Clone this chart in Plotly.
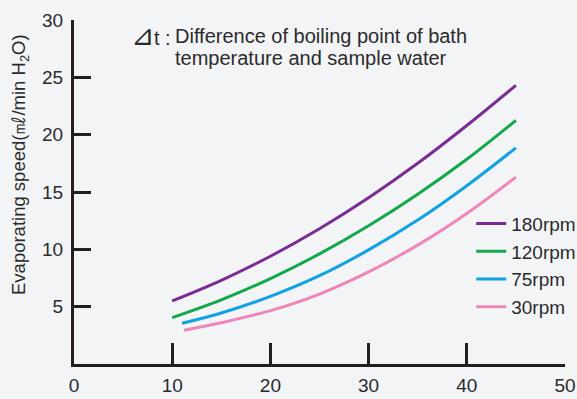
import plotly.graph_objects as go

# Data
x_180 = [10, 15, 20, 25, 30, 35, 40, 45]
y_180 = [5.5, 7.3, 9.4, 11.8, 14.5, 17.5, 20.8, 24.3]
x_120 = [10, 15, 20, 25, 30, 35, 40, 45]
y_120 = [4.05, 5.6, 7.45, 9.6, 12.05, 14.8, 17.85, 21.25]
x_75 = [11, 15, 20, 25, 30, 35, 40, 45]
y_75 = [3.55, 4.45, 5.9, 7.7, 9.95, 12.55, 15.55, 18.85]
x_30 = [11.2, 15, 20, 25, 30, 35, 40, 45]
y_30 = [2.95, 3.6, 4.65, 6.1, 8.03, 10.37, 13.13, 16.3]

series_names = ["180rpm", "120rpm", "75rpm", "30rpm"]
series_colors = ["#7B2C92", "#12A84B", "#10A2E2", "#EE86B9"]

x_ticks = [0, 10, 20, 30, 40, 50]
y_ticks = [5, 10, 15, 20, 25, 30]

FONT = "Liberation Sans"
TXT = "#2b2b2b"
BG = "#F3F4F6"
AX = "#231F20"

fig = go.Figure()
for xs, ys, name, col in zip([x_180, x_120, x_75, x_30],
                             [y_180, y_120, y_75, y_30],
                             series_names, series_colors):
    fig.add_trace(go.Scatter(x=xs, y=ys, mode="lines", name=name,
                             line=dict(color=col, width=3, shape="spline"),
                             hoverinfo="skip"))

fig.update_layout(
    width=577, height=399,
    margin=dict(l=74, r=12, t=20, b=35, autoexpand=False),
    paper_bgcolor=BG, plot_bgcolor=BG,
    font=dict(family=FONT, size=19, color=TXT),
    showlegend=True,
    legend=dict(x=0.809, y=0.463, xanchor="left", yanchor="top",
                bgcolor="rgba(0,0,0,0)", font=dict(size=19, color=TXT),
                itemwidth=30, tracegroupgap=0),
    xaxis=dict(range=[0, 50], tickvals=x_ticks, ticktext=[str(v) for v in x_ticks],
               showgrid=False, zeroline=False, showline=True, linewidth=3,
               linecolor=AX, ticks="inside", ticklen=21, tickwidth=3,
               tickcolor=AX, ticklabelstandoff=2, fixedrange=True,
               tickfont=dict(size=19), automargin=False),
    yaxis=dict(range=[0, 30], tickvals=y_ticks, ticktext=[str(v) for v in y_ticks],
               showgrid=False, zeroline=False, showline=True, linewidth=3,
               linecolor=AX, ticks="inside", ticklen=17, tickwidth=3,
               tickcolor=AX, ticklabelstandoff=4, fixedrange=True,
               tickfont=dict(size=19), automargin=False),
)

def px_x(p):
    return (p - 74) / 491

def px_y(p):
    return (364 - p) / 344

# y-axis title (placed as rotated text to match the reference offset)
fig.add_annotation(xref="paper", yref="paper", x=px_x(20), y=px_y(165),
                   xanchor="center", yanchor="middle", showarrow=False, textangle=-90,
                   text="Evaporating speed(㎖/min H<sub>2</sub>O)",
                   font=dict(size=18.5, color=TXT))

fig.add_annotation(xref="paper", yref="paper", x=px_x(129), y=px_y(36),
                   xanchor="left", yanchor="middle", showarrow=False,
                   text="<span style='font-size:28px'>⊿</span>t :",
                   font=dict(size=20, color=TXT))
fig.add_annotation(xref="paper", yref="paper", x=px_x(173), y=px_y(36),
                   xanchor="left", yanchor="middle", showarrow=False,
                   text="Difference of boiling point of bath",
                   font=dict(size=20, color=TXT))
fig.add_annotation(xref="paper", yref="paper", x=px_x(173), y=px_y(58),
                   xanchor="left", yanchor="middle", showarrow=False,
                   text="temperature and sample water",
                   font=dict(size=20, color=TXT))

fig.write_html("out.html")
